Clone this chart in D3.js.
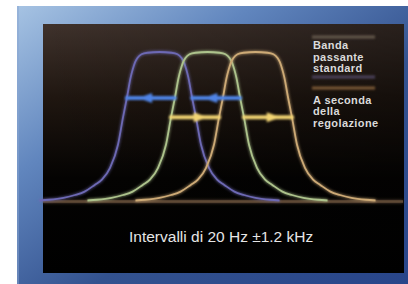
<!DOCTYPE html>
<html>
<head>
	<title>Banda passante</title>
	<style>
	body {
	  margin: 0;
	  background: #fff;
	  font-family: "Liberation Sans", Arial, sans-serif;
	}
	.legend text {
	  font-size: 11px;
	  font-weight: bold;
	  letter-spacing: 0.4px;
	  fill: #dadada;
	}
	.caption {
	  font-size: 15.5px;
	  fill: #e6e6e6;
	}
	</style>
	<script src="https://d3js.org/d3.v7.min.js"></script>
</head>
<body>
	<script>
		// band positions, in tuning steps (one step = 20 Hz)
		var centers = [-1, 0, 1];
		// one flank of the band shape: offset from centre (steps) / level (0..1)
		var profileOffset = [0, 0.25, 0.375, 0.46, 0.51, 0.56, 0.6, 0.68, 0.76, 0.865, 1.03, 1.2, 1.35, 1.56, 1.76, 2.0, 2.3, 2.5];
		var profileLevel  = [1, 0.995, 0.985, 0.96, 0.93, 0.88, 0.83, 0.69, 0.56, 0.375, 0.22, 0.14, 0.105, 0.06, 0.037, 0.018, 0.005, 0];
		// shift arrows: from band, to band, level
		var arrowFrom  = [1, 1];
		var arrowTo    = [0, 2];
		var arrowLevel = [0.69, 0.56];
		var legendLabels = [["Banda", "passante", "standard"], ["A seconda", "della", "regolazione"]];
		var caption = "Intervalli di 20 Hz \u00b11.2 kHz";

		var curveColors = ["#6d69b4", "#adc38c", "#cdaa76"];
		var arrowColors = ["#4f84e6", "#f3d573"];

		var W = 408, H = 284;

		var svg = d3.select("body").append("svg")
		    .attr("width", W)
		    .attr("height", H);

		var defs = svg.append("defs");

		var fg = defs.append("linearGradient").attr("id", "frame")
		    .attr("x1", 0).attr("y1", 0).attr("x2", 1).attr("y2", 1);
		fg.append("stop").attr("offset", 0).attr("stop-color", "#a6c3e3");
		fg.append("stop").attr("offset", 0.3).attr("stop-color", "#6186be");
		fg.append("stop").attr("offset", 0.6).attr("stop-color", "#33528f");
		fg.append("stop").attr("offset", 1).attr("stop-color", "#28458a");

		var pg = defs.append("linearGradient").attr("id", "panel")
		    .attr("x1", 0).attr("y1", 0).attr("x2", 0).attr("y2", 1);
		pg.append("stop").attr("offset", 0).attr("stop-color", "#3f322c");
		pg.append("stop").attr("offset", 0.3).attr("stop-color", "#1f1610");
		pg.append("stop").attr("offset", 0.62).attr("stop-color", "#040302");
		pg.append("stop").attr("offset", 1).attr("stop-color", "#000");

		var ph = defs.append("linearGradient").attr("id", "panelShade")
		    .attr("x1", 0).attr("y1", 0).attr("x2", 1).attr("y2", 0);
		ph.append("stop").attr("offset", 0).attr("stop-color", "#000").attr("stop-opacity", 0);
		ph.append("stop").attr("offset", 1).attr("stop-color", "#000").attr("stop-opacity", 0.35);

		// filters in user space so flat lines are not clipped away
		var glow = defs.append("filter").attr("id", "glow")
		    .attr("filterUnits", "userSpaceOnUse")
		    .attr("x", 0).attr("y", 0).attr("width", W).attr("height", H);
		glow.append("feGaussianBlur").attr("in", "SourceGraphic").attr("stdDeviation", 1.4).attr("result", "b");
		var gm = glow.append("feMerge");
		gm.append("feMergeNode").attr("in", "b");
		gm.append("feMergeNode").attr("in", "SourceGraphic");

		var soft = defs.append("filter").attr("id", "soft")
		    .attr("filterUnits", "userSpaceOnUse")
		    .attr("x", 0).attr("y", 0).attr("width", W).attr("height", H);
		soft.append("feGaussianBlur").attr("stdDeviation", 1);

		// frame and panel
		svg.append("rect")
		    .attr("x", 17).attr("y", 6)
		    .attr("width", W - 17).attr("height", H - 6)
		    .attr("fill", "url(#frame)");
		svg.append("rect")
		    .attr("x", 17).attr("y", 6)
		    .attr("width", 2).attr("height", H - 6)
		    .attr("fill", "#8aa6d2").attr("opacity", 0.5);
		svg.append("rect")
		    .attr("x", 43).attr("y", 24)
		    .attr("width", 361).attr("height", 249)
		    .attr("fill", "url(#panel)");
		svg.append("rect")
		    .attr("x", 43).attr("y", 24)
		    .attr("width", 361).attr("height", 249)
		    .attr("fill", "url(#panelShade)");

		var x = d3.scaleLinear()
		    .domain([-4, 4])
		    .range([15.5, 399.5]);

		var y = d3.scaleLinear()
		    .domain([0, 1])
		    .range([200.5, 52]);

		// baseline
		svg.append("line")
		    .attr("x1", 43).attr("x2", 403)
		    .attr("y1", y(0) + 1).attr("y2", y(0) + 1)
		    .attr("stroke", "#5e4a36")
		    .attr("stroke-width", 2.5)
		    .attr("filter", "url(#glow)");

		var line = d3.line()
		    .x(function(d) { return x(d.x); })
		    .y(function(d) { return y(d.y); })
		    .curve(d3.curveMonotoneX);

		function bandPoints(c) {
			var pts = [];
			for (var i = profileOffset.length - 1; i > 0; i--) {
				pts.push({x: c - profileOffset[i], y: profileLevel[i]});
			}
			for (var i = 0; i < profileOffset.length; i++) {
				pts.push({x: c + profileOffset[i], y: profileLevel[i]});
			}
			return pts;
		}

		// flank offset at a given level, from the read profile
		function halfWidth(level) {
			for (var i = 1; i < profileLevel.length; i++) {
				if (profileLevel[i] <= level) {
					var t = (profileLevel[i - 1] - level) / (profileLevel[i - 1] - profileLevel[i]);
					return profileOffset[i - 1] + t * (profileOffset[i] - profileOffset[i - 1]);
				}
			}
			return profileOffset[profileOffset.length - 1];
		}

		svg.selectAll("path.band")
		    .data(centers)
		    .enter()
		    .append("path")
		    .attr("class", "band")
		    .attr("d", function(c) { return line(bandPoints(c)); })
		    .attr("fill", "none")
		    .attr("stroke", function(c, i) { return curveColors[i]; })
		    .attr("stroke-width", 1.8)
		    .attr("filter", "url(#glow)");

		// shift arrows, one on each flank
		for (var a = 0; a < arrowFrom.length; a++) {
			var hw = halfWidth(arrowLevel[a]);
			var c0 = centers[arrowFrom[a]], c1 = centers[arrowTo[a]];
			var ay = y(arrowLevel[a]);
			[-1, 1].forEach(function(side) {
				var x0 = x(c0 + side * hw), x1 = x(c1 + side * hw);
				var dir = x1 > x0 ? 1 : -1;
				var hx = x0 + (x1 - x0) * 0.62;
				var g = svg.append("g").attr("filter", "url(#soft)");
				g.append("line")
				    .attr("x1", x0).attr("x2", x1)
				    .attr("y1", ay).attr("y2", ay)
				    .attr("stroke", arrowColors[a])
				    .attr("stroke-width", 4)
				    .attr("stroke-linecap", "round");
				g.append("path")
				    .attr("d", "M" + (hx + dir * 7) + "," + ay +
				          "L" + (hx - dir * 7) + "," + (ay - 5) +
				          "L" + (hx - dir * 7) + "," + (ay + 5) + "Z")
				    .attr("fill", arrowColors[a]);
			});
		}

		// legend
		var legend = svg.append("g").attr("class", "legend");
		var legendLines = [{y: 37, c: "#62564a"}, {y: 77, c: "#4a405a"}, {y: 88, c: "#7a5935"}];
		legend.selectAll("line")
		    .data(legendLines)
		    .enter()
		    .append("line")
		    .attr("x1", 312).attr("x2", 375)
		    .attr("y1", function(d) { return d.y; })
		    .attr("y2", function(d) { return d.y; })
		    .attr("stroke", function(d) { return d.c; })
		    .attr("stroke-width", 3.2)
		    .attr("filter", "url(#soft)");

		var legendTop = [49.3, 104];
		legendLabels.forEach(function(rows, k) {
			rows.forEach(function(t, j) {
				legend.append("text")
				    .attr("x", 313)
				    .attr("y", legendTop[k] + j * 11.4)
				    .text(t);
			});
		});

		svg.append("text")
		    .attr("class", "caption")
		    .attr("x", 129)
		    .attr("y", 242)
		    .text(caption);
	</script>
</body>
</html>
